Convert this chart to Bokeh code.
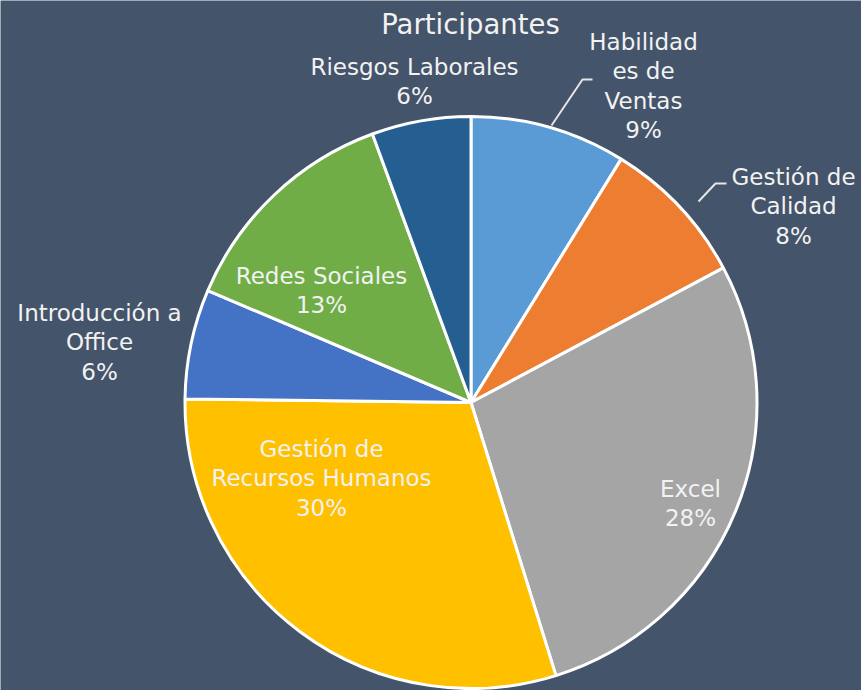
import math
from bokeh.plotting import figure
from bokeh.models import Range1d, ColumnDataSource
from bokeh.embed import file_html
from bokeh.resources import INLINE
from bokeh.core.properties import value

# ---- data ----
title_text = "Participantes"
categories = ["Habilidades de Ventas", "Gestión de Calidad", "Excel",
              "Gestión de Recursos Humanos", "Introducción a Office",
              "Redes Sociales", "Riesgos Laborales"]
shares = [8.8, 8.4, 28.0, 30.0, 6.2, 13.0, 5.6]
label_lines = [["Habilidad", "es de", "Ventas"], ["Gestión de", "Calidad"], ["Excel"],
               ["Gestión de", "Recursos Humanos"], ["Introducción a", "Office"],
               ["Redes Sociales"], ["Riesgos Laborales"]]
colors = ["#5B9BD5", "#ED7D31", "#A5A5A5", "#FFC000", "#4472C4", "#70AD47", "#255E91"]

# ---- layout (pixel positions, y from top) ----
W, H = 861, 690
CX, CY, R = 470.5, 402, 286
label_anchor = [(643, 41), (793, 176), (690, 488), (321, 448), (99, 312), (321, 275), (414, 66)]
line_step = 29.5
title_pos = (470, 23)
leaders = [[(551, 125), (582, 79), (592, 79)], [(698, 201), (715, 183), (726, 183)]]
BG = "#44546A"
TXT = "#F2F2F2"
FONT = "DejaVu Sans"


def fy(y):
    return H - y


total = sum(shares)
starts, ends = [], []
cum = 0.0
for v in shares:
    starts.append(math.pi / 2 - 2 * math.pi * cum / total)
    cum += v
    ends.append(math.pi / 2 - 2 * math.pi * cum / total)

src = ColumnDataSource(dict(cat=categories, val=shares, start=starts, end=ends, color=colors))

p = figure(width=W, height=H, x_range=Range1d(0, W), y_range=Range1d(0, H),
           x_axis_type=None, y_axis_type=None, min_border=0,
           toolbar_location=None, output_backend="svg")
p.background_fill_color = BG
p.border_fill_color = BG
p.outline_line_color = None
p.grid.visible = False

p.wedge(x=CX, y=fy(CY), radius=R, start_angle="start", end_angle="end",
        direction="clock", fill_color="color", line_color="white", line_width=3,
        source=src)

for pts in leaders:
    p.line([a for a, b in pts], [fy(b) for a, b in pts], line_color="#E6E6E6", line_width=2)

tx, ty, tt = [], [], []
for i, v in enumerate(shares):
    lines = label_lines[i] + [f"{round(v / total * 100)}%"]
    ax, ay = label_anchor[i]
    for k, s in enumerate(lines):
        tx.append(ax)
        ty.append(fy(ay + k * line_step))
        tt.append(s)

p.text(x=tx, y=ty, text=tt, text_align="center", text_baseline="alphabetic",
       text_font=value(FONT), text_font_size="23px", text_color=TXT)

p.text(x=[title_pos[0]], y=[fy(title_pos[1])], text=[title_text], text_align="center",
       text_baseline="alphabetic", text_font=value(FONT), text_font_size="27.5px", text_color=TXT)

open("out.html", "w").write(file_html(p, INLINE))
